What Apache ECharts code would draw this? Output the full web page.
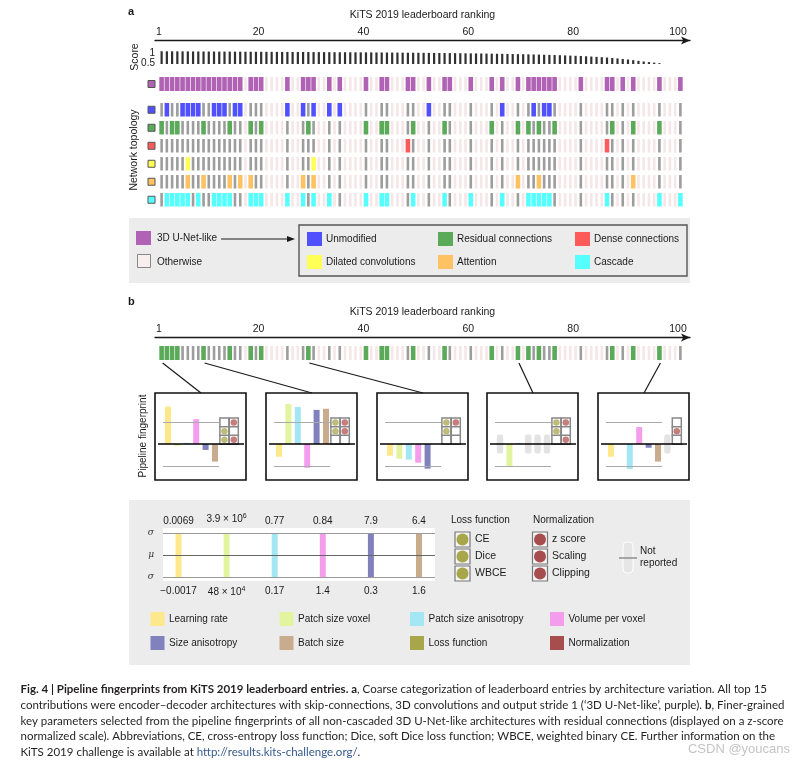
<!DOCTYPE html>
<html>
<head>
<meta charset="utf-8">
<script src="https://cdn.jsdelivr.net/npm/echarts@6/dist/echarts.min.js"></script>
<style>
html, body { margin: 0; padding: 0; background: #fff; }
#chart { width: 808px; height: 765px; }
</style>
</head>
<body>
<div id="chart"></div>
<script>
// ---- data ----
var ranks = [];
for (var r = 1; r <= 100; r++) ranks.push(String(r));
var rankTicks = [1, 20, 40, 60, 80, 100];

// Dice score per leaderboard rank (1..96)
var scores = [
  0.912, 0.907, 0.906, 0.903, 0.901, 0.899, 0.897, 0.895, 0.893, 0.891,
  0.889, 0.887, 0.885, 0.884, 0.882, 0.880, 0.878, 0.876, 0.874, 0.872,
  0.870, 0.868, 0.866, 0.864, 0.862, 0.860, 0.858, 0.856, 0.854, 0.852,
  0.850, 0.848, 0.846, 0.844, 0.842, 0.840, 0.838, 0.836, 0.834, 0.832,
  0.829, 0.826, 0.823, 0.820, 0.817, 0.814, 0.811, 0.808, 0.805, 0.802,
  0.798, 0.794, 0.790, 0.786, 0.782, 0.778, 0.774, 0.770, 0.765, 0.760,
  0.755, 0.750, 0.744, 0.738, 0.732, 0.726, 0.719, 0.712, 0.705, 0.697,
  0.689, 0.680, 0.671, 0.661, 0.651, 0.640, 0.628, 0.615, 0.601, 0.586,
  0.570, 0.552, 0.532, 0.510, 0.486, 0.460, 0.430, 0.397, 0.360, 0.320,
  0.275, 0.228, 0.180, 0.135, 0.095, 0.060
];

// ranks of 3D U-Net-like entries and their modifications
var unetLike = [1, 2, 3, 4, 5, 6, 7, 8, 9, 10, 11, 12, 13, 14, 15, 16, 18, 19, 20, 25, 28, 29, 30, 33, 35, 40,
  43, 44, 48, 49, 52, 55, 56, 60, 64, 66, 69, 71, 72, 73, 74, 75, 76, 81, 86, 87, 89, 91, 96, 100];
var unmodified = [2, 5, 6, 7, 8, 11, 12, 13, 15, 16, 25, 28, 30, 33, 35, 52, 66, 72, 74, 75];
var residual = [1, 3, 4, 9, 14, 18, 20, 29, 40, 43, 44, 49, 55, 64, 69, 71, 73, 76, 87, 91, 96];
var dense = [48, 86];
var dilated = [6, 30];
var attention = [6, 9, 14, 16, 18, 28, 30, 69, 73, 91];
var cascade = [2, 3, 4, 5, 6, 8, 11, 12, 13, 14, 18, 19, 20, 25, 28, 30, 33, 40, 43, 44, 49, 55, 60, 66,
  71, 72, 73, 74, 75, 86, 96, 100];
var residualB = [1, 2, 3, 4, 9, 14, 18, 20, 29, 40, 43, 44, 49, 55, 64, 69, 71, 73, 76, 87, 91, 96];

// panel b: fingerprints (z-scores) of five selected entries
var fingerprintRanks = [1, 9, 29, 69, 96];
var learningRate   = [1.70, -0.58, -0.53, null, -0.58];
var patchSizeVoxel = [-0.08, 1.82, -0.67, -1.00, 0];
var patchSizeAniso = [0.05, 1.68, -0.71, 0.05, -1.14];
var volumePerVoxel = [1.13, -1.08, -0.85, null, 0.77];
var sizeAniso      = [-0.27, 1.55, -1.12, null, -0.17];
var batchSize      = [-0.80, 1.60, 0, null, -0.80];
var lossUsed = [[0, 1, 1], [1, 1, 0], [1, 1, 0], [1, 1, 0], null];   // CE, Dice, WBCE
var normUsed = [[1, 0, 1], [1, 1, 0], [1, 0, 0], [1, 0, 1], [0, 1, 0]]; // z score, scaling, clipping

var paramNames = ['Learning rate', 'Patch size voxel', 'Patch size anisotropy', 'Volume per voxel',
  'Size anisotropy', 'Batch size', 'Loss function', 'Normalization'];
var rangeTop = ['0.0069', '3.9 \u00d7 10{sup|6}', '0.77', '0.84', '7.9', '6.4'];
var rangeBottom = ['\u22120.0017', '48 \u00d7 10{sup|4}', '0.17', '1.4', '0.3', '1.6'];
var lossNames = ['CE', 'Dice', 'WBCE'];
var normNames = ['z score', 'Scaling', 'Clipping'];

// ---- styles ----
var FONT = '"Liberation Sans", Arial, sans-serif';
var BLACK = '#1a1a1a';
var GRAY = '#9d9d9d';
var PINK = '#f5e6e8';
var topoColors = {
  unet: '#b062b4', unmodified: '#5050ff', residual: '#5aaa5a', dense: '#ff5a5a',
  dilated: '#ffff55', attention: '#ffc262', cascade: '#55ffff'
};
var paramColors = ['#fde98c', '#e2f4a0', '#a3e7f5', '#f59ded', '#8181bd', '#c9ac8e', '#a7a64b', '#a84d4d'];

var grids = [], xAxis = [], yAxis = [], series = [], els = [];

function addGrid(g) {
  g.outerBoundsMode = 'none';
  grids.push(g);
  return grids.length - 1;
}

function header(top, title) {
  var g = addGrid({ left: 155, top: top, width: 535, height: 1 });
  xAxis.push({
    gridIndex: g, type: 'value', position: 'top', min: 0.237, max: 102.29,
    axisLine: { show: true, onZero: false, symbol: ['none', 'arrow'], symbolSize: [6, 9],
      lineStyle: { color: BLACK, width: 1.3 } },
    axisTick: { show: false }, splitLine: { show: false },
    axisLabel: { customValues: rankTicks, color: BLACK, fontSize: 10.5, fontFamily: FONT, margin: 3 },
    name: title, nameLocation: 'middle', nameGap: 20, nameMoveOverlap: false,
    nameTextStyle: { color: BLACK, fontSize: 10.5, fontFamily: FONT }
  });
  yAxis.push({ gridIndex: g, show: false });
}

function stripRow(top, height, members, color) {
  var g = addGrid({ left: 159, top: top, width: 524, height: height });
  var xi = xAxis.length, yi = yAxis.length;
  xAxis.push({ gridIndex: g, type: 'category', data: ranks, show: false });
  xAxis.push({ gridIndex: g, type: 'category', data: ranks, show: false });
  yAxis.push({ gridIndex: g, type: 'value', min: 0, max: 1, show: false });
  var isMember = ranks.map(function (r) { return members.indexOf(+r) >= 0; });
  var isUnet = ranks.map(function (r) { return unetLike.indexOf(+r) >= 0; });
  series.push({ type: 'bar', xAxisIndex: xi, yAxisIndex: yi, barWidth: 4.6, silent: true,
    itemStyle: { color: color },
    data: ranks.map(function (r, i) { return isMember[i] ? 1 : null; }) });
  series.push({ type: 'bar', xAxisIndex: xi + 1, yAxisIndex: yi, barWidth: 2.6, barGap: '-100%', silent: true,
    itemStyle: { color: GRAY },
    data: ranks.map(function (r, i) { return !isMember[i] && isUnet[i] ? 1 : null; }) });
  series.push({ type: 'bar', xAxisIndex: xi + 1, yAxisIndex: yi, barWidth: 2.6, barGap: '-100%', silent: true,
    itemStyle: { color: PINK },
    data: ranks.map(function (r, i) { return !isUnet[i] ? 1 : null; }) });
  return xi;
}

// ---- panel a ----
header(40.5, 'KiTS 2019 leaderboard ranking');

var gS = addGrid({ left: 159, top: 50, width: 524, height: 14 });
xAxis.push({ gridIndex: gS, type: 'category', data: ranks, show: false });
yAxis.push({
  gridIndex: gS, type: 'value', min: 0, max: 1,
  axisLine: { show: false }, axisTick: { show: false }, splitLine: { show: false },
  axisLabel: {
    customValues: [0.5, 1], margin: 4, color: BLACK, fontSize: 10, fontFamily: FONT,
    formatter: function (v) { return v === 1 ? '{a|1}' : '{b|0.5}'; },
    rich: {
      a: { padding: [7, 0, 0, 0], fontSize: 10, fontFamily: FONT, color: BLACK },
      b: { padding: [13, 0, 0, 0], fontSize: 10, fontFamily: FONT, color: BLACK }
    }
  }
});
series.push({ type: 'bar', xAxisIndex: xAxis.length - 1, yAxisIndex: yAxis.length - 1, barWidth: 2.2,
  silent: true, itemStyle: { color: '#303030' }, data: scores });

var rowLayout = [
  { top: 77, h: 14, members: unetLike, color: topoColors.unet },
  { top: 103, h: 13.5, members: unmodified, color: topoColors.unmodified },
  { top: 121, h: 13.5, members: residual, color: topoColors.residual },
  { top: 139, h: 13.5, members: dense, color: topoColors.dense },
  { top: 157, h: 13.5, members: dilated, color: topoColors.dilated },
  { top: 175, h: 13.5, members: attention, color: topoColors.attention },
  { top: 193, h: 13.5, members: cascade, color: topoColors.cascade }
];
rowLayout.forEach(function (row) {
  stripRow(row.top, row.h, row.members, row.color);
  els.push({ type: 'rect', z: 50, silent: true,
    shape: { x: 148, y: row.top + row.h / 2 - 3.5, width: 7, height: 7 },
    style: { fill: row.color, stroke: '#555', lineWidth: 1 } });
});

// ---- panel b ----
header(337.5, 'KiTS 2019 leaderboard ranking');
var stripAxis = stripRow(346, 14, residualB, topoColors.residual);

var boxLefts = [155, 266, 377, 487, 598];
var cellRows = [0.977, 0.58, 0.19];
var params = [learningRate, patchSizeVoxel, patchSizeAniso, volumePerVoxel, sizeAniso, batchSize];
var solid = { type: 'solid' };

boxLefts.forEach(function (L, k) {
  var g = addGrid({ left: L, top: 393, width: 91, height: 87, show: true, borderColor: '#111', borderWidth: 1.6 });
  var xi = xAxis.length, yi = yAxis.length;
  xAxis.push({ gridIndex: g, type: 'value', min: -1.383, max: 8.298, show: false });
  yAxis.push({ gridIndex: g, type: 'value', min: -1.636, max: 2.318, show: false });
  var bars = [], nr = [];
  params.forEach(function (p, i) {
    if (p[k] == null) nr.push([i, 0]);
    else bars.push({ value: [i, p[k]], itemStyle: { color: paramColors[i] } });
  });
  if (!lossUsed[k]) nr.push([6, 0]);
  series.push({
    type: 'bar', xAxisIndex: xi, yAxisIndex: yi, barWidth: 6, silent: true, data: bars,
    markLine: {
      silent: true, symbol: 'none', label: { show: false }, lineStyle: solid,
      data: [
        [{ coord: [-0.53, 1], lineStyle: { color: '#aaa', width: 1.2, type: 'solid' } }, { coord: [5.43, 1] }],
        [{ coord: [-0.53, -1], lineStyle: { color: '#aaa', width: 1.2, type: 'solid' } }, { coord: [5.43, -1] }],
        [{ coord: [-1.06, 0], lineStyle: { color: '#000', width: 1.5, type: 'solid' } }, { coord: [8.09, 0] }]
      ]
    }
  });
  series.push({ type: 'scatter', xAxisIndex: xi, yAxisIndex: yi, silent: true, symbol: 'roundRect',
    symbolSize: [6.5, 19], itemStyle: { color: '#e3e3e3', opacity: 1 }, data: nr });
  var cells = [], lossDots = [], normDots = [];
  cellRows.forEach(function (y, j) {
    if (lossUsed[k]) {
      cells.push([6, y]);
      if (lossUsed[k][j]) lossDots.push([6, y]);
    }
    cells.push([7, y]);
    if (normUsed[k][j]) normDots.push([7, y]);
  });
  series.push({ type: 'scatter', xAxisIndex: xi, yAxisIndex: yi, silent: true, symbol: 'rect', symbolSize: 9,
    itemStyle: { color: '#fff', borderColor: '#888', borderWidth: 1.5, opacity: 1 }, data: cells });
  series.push({ type: 'scatter', xAxisIndex: xi, yAxisIndex: yi, silent: true, symbol: 'circle', symbolSize: 6.5,
    itemStyle: { color: '#bebc78', opacity: 1 }, data: lossDots });
  series.push({ type: 'scatter', xAxisIndex: xi, yAxisIndex: yi, silent: true, symbol: 'circle', symbolSize: 6.5,
    itemStyle: { color: '#c87d7d', opacity: 1 }, data: normDots });
});

// legend panel with the +-sigma ranges
var gL = addGrid({ left: 163, top: 528, width: 272, height: 53 });
xAxis.push({ gridIndex: gL, type: 'value', min: -0.322, max: 5.333, show: false });
yAxis.push({
  gridIndex: gL, type: 'value', min: -1.182, max: 1.227,
  axisLine: { show: false }, axisTick: { show: false }, splitLine: { show: false },
  axisLabel: { customValues: [-1, 0, 1], margin: 9, color: '#333', fontSize: 9, fontStyle: 'italic',
    fontFamily: '"DejaVu Serif", serif', formatter: function (v) { return v === 0 ? '\u03bc' : '\u03c3'; } }
});
var supRich = { sup: { fontSize: 7, padding: [0, 0, 6, 0], color: BLACK, fontFamily: FONT } };
series.push({
  type: 'bar', xAxisIndex: xAxis.length - 1, yAxisIndex: yAxis.length - 1, barWidth: 6, barGap: '-100%', silent: true,
  data: rangeTop.map(function (t, i) { return { value: [i, 1], itemStyle: { color: paramColors[i] } }; }),
  label: { show: true, position: 'top', distance: 7, color: BLACK, fontSize: 10, fontFamily: FONT, rich: supRich,
    formatter: function (p) { return rangeTop[p.dataIndex]; } },
  markLine: {
    silent: true, symbol: 'none', label: { show: false }, lineStyle: solid,
    data: [
      { yAxis: 1, lineStyle: { color: '#999', width: 1, type: 'solid' } },
      { yAxis: 0, lineStyle: { color: '#666', width: 1.2, type: 'solid' } },
      { yAxis: -1, lineStyle: { color: '#999', width: 1, type: 'solid' } }
    ]
  }
});
series.push({
  type: 'bar', xAxisIndex: xAxis.length - 1, yAxisIndex: yAxis.length - 1, barWidth: 6, barGap: '-100%', silent: true,
  data: rangeBottom.map(function (t, i) { return { value: [i, -1], itemStyle: { color: paramColors[i] } }; }),
  label: { show: true, position: 'bottom', distance: 9, color: BLACK, fontSize: 10, fontFamily: FONT, rich: supRich,
    formatter: function (p) { return rangeBottom[p.dataIndex]; } }
});

// ---- graphic helpers ----
function txt(x, y, text, o) {
  o = o || {};
  els.push({
    type: 'text', x: x, y: y, rotation: o.rot || 0, z: 100, silent: true,
    style: {
      text: text, fill: o.fill || BLACK, fontSize: o.size || 10, fontFamily: o.font || FONT,
      fontWeight: o.weight || 'normal', align: o.align || 'left', verticalAlign: 'middle', rich: o.rich
    }
  });
}
function rect(x, y, w, h, fill, stroke, lw, z, r) {
  els.push({ type: 'rect', z: z == null ? 50 : z, silent: true,
    shape: { x: x, y: y, width: w, height: h, r: r || 0 },
    style: { fill: fill, stroke: stroke || null, lineWidth: lw || 0 } });
}
function line(x1, y1, x2, y2, color, w, z) {
  els.push({ type: 'line', z: z || 60, silent: true, shape: { x1: x1, y1: y1, x2: x2, y2: y2 },
    style: { stroke: color, lineWidth: w } });
}

// labels
txt(128, 12, 'a', { weight: 'bold', size: 11 });
txt(128, 302, 'b', { weight: 'bold', size: 11 });
txt(135, 57, 'Score', { rot: Math.PI / 2, align: 'center', size: 10.5 });
txt(134, 150, 'Network topology', { rot: Math.PI / 2, align: 'center', size: 10.5 });
txt(143, 436, 'Pipeline fingerprint', { rot: Math.PI / 2, align: 'center', size: 10 });

// legend a
rect(129, 218, 561, 65, '#ececec', null, 0, 0);
rect(299, 225, 388, 51, 'none', '#555', 1.4, 5);
rect(136, 231, 15, 14, topoColors.unet, null, 0, 10);
txt(157, 238, '3D U-Net-like');
line(221, 239, 289, 239, BLACK, 1.2);
els.push({ type: 'polygon', z: 60, silent: true, shape: { points: [[295, 239], [287, 236], [287, 242]] },
  style: { fill: BLACK } });
rect(137.5, 254.5, 13, 13, '#f7eeee', '#888', 1, 10);
txt(157, 262, 'Otherwise');
var topoLegend = [
  ['Unmodified', topoColors.unmodified], ['Residual connections', topoColors.residual], ['Dense connections', topoColors.dense],
  ['Dilated convolutions', topoColors.dilated], ['Attention', topoColors.attention], ['Cascade', topoColors.cascade]
];
var topoLegendX = [307, 438, 575];
topoLegend.forEach(function (it, i) {
  var x = topoLegendX[i % 3], y = i < 3 ? 232 : 255;
  rect(x, y, 15, 14, it[1], null, 0, 10);
  txt(x + 19, y + 7, it[0]);
});

// legend b
rect(129, 500, 561, 165, '#ececec', null, 0, 0);
rect(163, 528, 272, 53, '#fff', null, 0, 1);
txt(451, 520, 'Loss function');
txt(533, 520, 'Normalization');
[532, 549, 566].forEach(function (y, j) {
  rect(455, y, 15, 15, '#f4f4f4', '#777', 1.2, 10);
  els.push({ type: 'circle', z: 11, silent: true, shape: { cx: 462.5, cy: y + 7.5, r: 6 }, style: { fill: paramColors[6] } });
  txt(475, y + 7.5, lossNames[j], { size: 10.5 });
  rect(532.5, y, 15, 15, '#f4f4f4', '#777', 1.2, 10);
  els.push({ type: 'circle', z: 11, silent: true, shape: { cx: 540, cy: y + 7.5, r: 6 }, style: { fill: paramColors[7] } });
  txt(552, y + 7.5, normNames[j], { size: 10.5 });
});
rect(623, 542, 10, 31, '#e6e6e6', '#fff', 1, 10, 4);
line(619, 558, 637, 558, '#777', 1.2);
txt(640, 551, 'Not');
txt(640, 563.5, 'reported');
var paramLegendX = [150.5, 279.5, 410, 550];
paramNames.forEach(function (n, i) {
  var x = paramLegendX[i % 4], y = i < 4 ? 612 : 636;
  rect(x, y, 14, 14, paramColors[i], null, 0, 10);
  txt(x + 18.5, y + 7, n);
});

// caption
var captionLines = [
  '{b|Fig. 4 | Pipeline fingerprints from KiTS 2019 leaderboard entries. a}, Coarse categorization of leaderboard entries by architecture variation. All top 15',
  'contributions were encoder\u2013decoder architectures with skip-connections, 3D convolutions and output stride 1 (\u20183D U-Net-like\u2019, purple). {b|b}, Finer-grained',
  'key parameters selected from the pipeline fingerprints of all non-cascaded 3D U-Net-like architectures with residual connections (displayed on a z-score',
  'normalized scale). Abbreviations, CE, cross-entropy loss function; Dice, soft Dice loss function; WBCE, weighted binary CE. Further information on the',
  'KiTS 2019 challenge is available at {l|http://results.kits-challenge.org/}.'
];
var capFont = 'Lato, "Open Sans", sans-serif';
captionLines.forEach(function (s, i) {
  txt(20.5, 689 + 15.9 * i, s, {
    size: 11.5, font: capFont, fill: '#231f20',
    rich: {
      b: { fontWeight: 'bold', fontSize: 11.5, fontFamily: capFont, fill: '#231f20' },
      l: { fontSize: 11.5, fontFamily: capFont, fill: '#35598c' }
    }
  });
});
txt(790, 749, 'CSDN @youcans', { size: 13, fill: '#c4c4c4', align: 'right' });

// ---- render ----
var chart = echarts.init(document.getElementById('chart'));
chart.setOption({
  animation: false,
  backgroundColor: '#fff',
  grid: grids,
  xAxis: xAxis,
  yAxis: yAxis,
  series: series,
  graphic: { elements: els }
});

// connector lines from the strip to the fingerprint boxes
fingerprintRanks.forEach(function (rk, k) {
  var px = chart.convertToPixel({ xAxisIndex: stripAxis }, rk - 1);
  line(px + 1, 363, boxLefts[k] + 46, 393, BLACK, 1.2);
});
chart.setOption({ graphic: { elements: els } });
</script>
</body>
</html>
